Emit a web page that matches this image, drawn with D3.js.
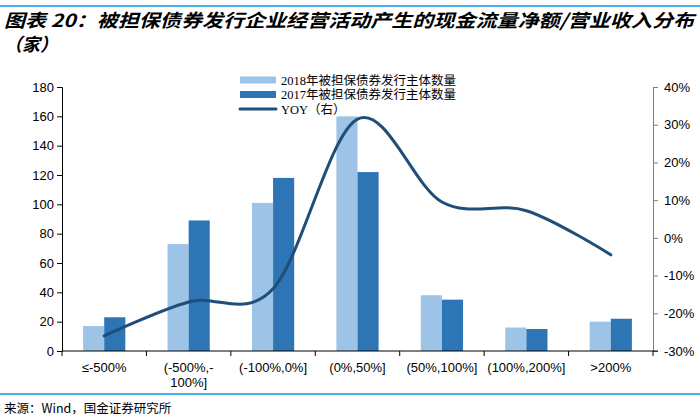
<!DOCTYPE html>
<html>
<head>
<meta charset="utf-8">
<script src="https://cdn.jsdelivr.net/npm/d3@7"></script>
<style>
  body { margin: 0; background: #fff; }
</style>
</head>
<body>
<div id="chart"></div>
<script>
// data
const categories = ["≤-500%", "(-500%,-100%]", "(-100%,0%]", "(0%,50%]", "(50%,100%]", "(100%,200%]", ">200%"];
const labelLines = [["≤-500%"], ["(-500%,-", "100%]"], ["(-100%,0%]"], ["(0%,50%]"], ["(50%,100%]"], ["(100%,200%]"], [">200%"]];
const count2018 = [17, 73, 101, 160, 38, 16, 20];
const count2017 = [23, 89, 118, 122, 35, 15, 22];
const yoy = [-26, -17, -13.5, 31.5, 9.5, 7.2, -4.5];
const leftTicks = [0, 20, 40, 60, 80, 100, 120, 140, 160, 180];
const rightTicks = [-30, -20, -10, 0, 10, 20, 30, 40];

const W = 700, H = 420;
const plot = { left: 62, right: 653, top: 87, bottom: 351 };

const svg = d3.select("#chart").append("svg")
    .attr("width", W).attr("height", H);

// frame lines top and bottom
svg.append("line").attr("x1", 0).attr("x2", W).attr("y1", 6).attr("y2", 6)
    .attr("stroke", "#4db1ea").attr("stroke-width", 2);
svg.append("line").attr("x1", 0).attr("x2", W).attr("y1", 394).attr("y2", 394)
    .attr("stroke", "#4db1ea").attr("stroke-width", 2);

// title
const titleFont = "'Noto Sans CJK SC', sans-serif";
svg.append("text").attr("x", 4).attr("y", 27)
    .attr("font-family", titleFont).attr("font-size", 18)
    .attr("font-weight", "bold").attr("font-style", "italic")
    .attr("textLength", 690).attr("lengthAdjust", "spacingAndGlyphs")
    .text("图表 20：被担保债券发行企业经营活动产生的现金流量净额/营业收入分布");
svg.append("text").attr("x", 4).attr("y", 51)
    .attr("font-family", titleFont).attr("font-size", 18)
    .attr("font-weight", "bold").attr("font-style", "italic")
    .text("（家）");

// scales
const x = d3.scaleBand().domain(categories).range([plot.left, plot.right]);
const xs = d3.scaleBand().domain(["2018", "2017"])
    .range([x.bandwidth() * 0.25, x.bandwidth() * 0.75]);
const y = d3.scaleLinear().domain([0, 180]).range([plot.bottom, plot.top]);
const y2 = d3.scaleLinear().domain([-30, 40]).range([plot.bottom, plot.top]);

const axisFont = "'Liberation Sans', Arial, sans-serif";

// bars
const groups = svg.append("g").selectAll("g")
    .data(categories).join("g")
    .attr("transform", d => "translate(" + x(d) + ",0)");

groups.append("rect")
    .attr("x", xs("2018")).attr("width", xs.bandwidth())
    .attr("y", (d, i) => y(count2018[i]))
    .attr("height", (d, i) => y(0) - y(count2018[i]))
    .attr("fill", "#9dc3e6");

groups.append("rect")
    .attr("x", xs("2017")).attr("width", xs.bandwidth())
    .attr("y", (d, i) => y(count2017[i]))
    .attr("height", (d, i) => y(0) - y(count2017[i]))
    .attr("fill", "#2e75b6");

// left axis
const leftAxis = svg.append("g")
    .attr("transform", "translate(" + plot.left + ",0)")
    .call(d3.axisLeft(y).tickValues(leftTicks).tickSize(5).tickPadding(3));
leftAxis.selectAll("text").attr("font-family", axisFont).attr("font-size", 13).attr("fill", "#000");
leftAxis.selectAll("line, path").attr("stroke", "#000");

// right axis
const rightAxis = svg.append("g")
    .attr("transform", "translate(" + plot.right + ",0)")
    .call(d3.axisRight(y2).tickValues(rightTicks).tickSize(5).tickPadding(6)
        .tickFormat(d => d + "%"));
rightAxis.selectAll("text").attr("font-family", axisFont).attr("font-size", 13).attr("fill", "#000");
rightAxis.selectAll("line, path").attr("stroke", "#808080");

// bottom axis: ticks at category boundaries
const xAxis = svg.append("g")
    .attr("transform", "translate(0," + plot.bottom + ")");
xAxis.append("line")
    .attr("x1", plot.left).attr("x2", plot.right + 5)
    .attr("stroke", "#000");
const bounds = categories.map(c => x(c)).concat([x(categories[categories.length - 1]) + x.bandwidth()]);
xAxis.selectAll("line.tick").data(bounds).join("line")
    .attr("class", "tick")
    .attr("x1", d => d).attr("x2", d => d)
    .attr("y1", 0).attr("y2", 5)
    .attr("stroke", "#000");
const xl = xAxis.selectAll("text").data(categories).join("text")
    .attr("x", d => x(d) + x.bandwidth() / 2)
    .attr("y", 21)
    .attr("text-anchor", "middle")
    .attr("font-family", axisFont).attr("font-size", 13).attr("fill", "#000");
xl.selectAll("tspan").data((d, i) => labelLines[i]).join("tspan")
    .attr("x", function () { return this.parentNode.getAttribute("x"); })
    .attr("dy", (d, i) => i === 0 ? 0 : 15)
    .text(d => d);

// yoy line
const line = d3.line()
    .x((d, i) => x(categories[i]) + x.bandwidth() / 2)
    .y(d => y2(d))
    .curve(d3.curveCardinal.tension(0));
svg.append("path").datum(yoy)
    .attr("d", line)
    .attr("fill", "none")
    .attr("stroke", "#1f4e79")
    .attr("stroke-width", 3)
    .attr("stroke-linecap", "round");

// legend
const legendFont = "'Liberation Serif', 'Noto Sans CJK SC', serif";
const legendItems = [
    { label: "2018年被担保债券发行主体数量", color: "#9dc3e6", type: "bar" },
    { label: "2017年被担保债券发行主体数量", color: "#2e75b6", type: "bar" },
    { label: "YOY（右）", color: "#1f4e79", type: "line" }
];
const legend = svg.append("g").selectAll("g").data(legendItems).join("g")
    .attr("transform", (d, i) => "translate(240," + (80 + i * 14.5) + ")");
legend.filter(d => d.type === "bar").append("rect")
    .attr("x", 0).attr("y", -3.5).attr("width", 36).attr("height", 7)
    .attr("fill", d => d.color);
legend.filter(d => d.type === "line").append("line")
    .attr("x1", 0).attr("x2", 36).attr("y1", 0).attr("y2", 0)
    .attr("stroke", d => d.color).attr("stroke-width", 3).attr("stroke-linecap", "round");
legend.append("text")
    .attr("x", 41).attr("y", 4.5)
    .attr("font-family", legendFont).attr("font-size", 12.5).attr("fill", "#000")
    .text(d => d.label);

// source
svg.append("text").attr("x", 4).attr("y", 413)
    .attr("font-family", "'Noto Sans CJK SC', sans-serif").attr("font-size", 12.5)
    .attr("fill", "#000")
    .text("来源：Wind，国金证券研究所");
</script>
</body>
</html>
